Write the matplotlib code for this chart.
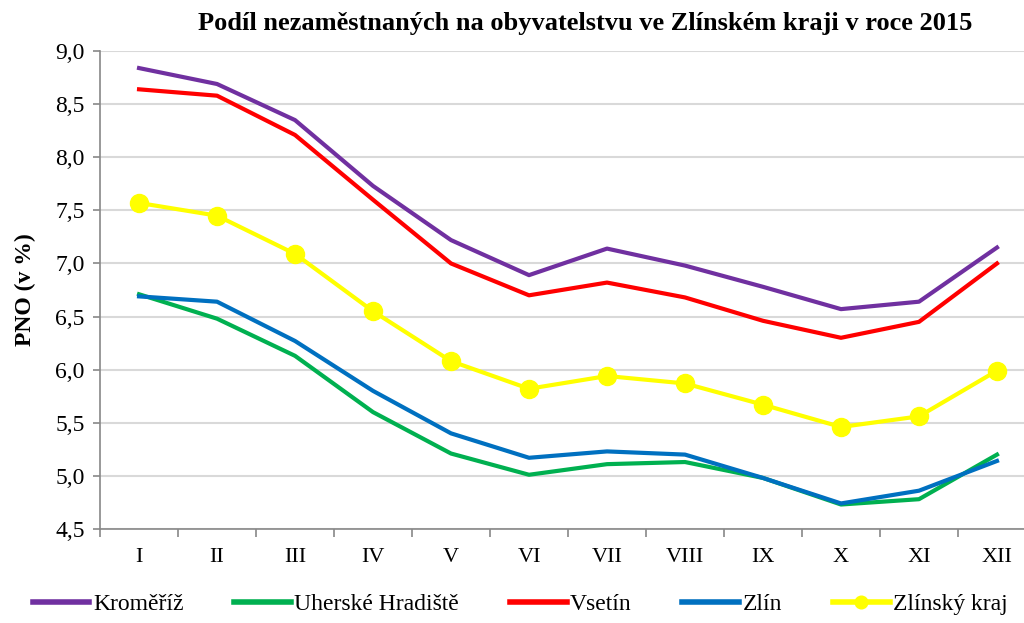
import matplotlib.pyplot as plt
import numpy as np

plt.rcParams["font.family"] = ["Liberation Serif", "DejaVu Serif"]

months = ["I", "II", "III", "IV", "V", "VI", "VII", "VIII", "IX", "X", "XI", "XII"]
kromeriz = [8.84, 8.69, 8.35, 7.73, 7.22, 6.89, 7.14, 6.98, 6.78, 6.57, 6.64, 7.15]
uh = [6.71, 6.48, 6.13, 5.60, 5.21, 5.01, 5.11, 5.13, 4.98, 4.73, 4.78, 5.20]
vsetin = [8.64, 8.58, 8.21, 7.60, 7.00, 6.70, 6.82, 6.68, 6.46, 6.30, 6.45, 7.00]
zlin = [6.69, 6.64, 6.27, 5.80, 5.40, 5.17, 5.23, 5.20, 4.98, 4.74, 4.86, 5.14]
kraj = [7.57, 7.45, 7.09, 6.55, 6.08, 5.82, 5.94, 5.87, 5.67, 5.46, 5.56, 5.99]

fig = plt.figure(figsize=(10.24, 6.23), dpi=100)
# plot area runs past the right edge, like the original
ax = fig.add_axes([0.0977, 0.151, 0.914, 0.767])
x = np.arange(len(months))

ax.plot(x, kromeriz, color="#7030A0", lw=3, label="Kroměříž")
ax.plot(x, uh, color="#00B050", lw=3, label="Uherské Hradiště")
ax.plot(x, vsetin, color="#FF0000", lw=3, label="Vsetín")
ax.plot(x, zlin, color="#0070C0", lw=3, label="Zlín")
ax.plot(x, kraj, color="#FFFF00", lw=3, marker="o", ms=13, label="Zlínský kraj")

ax.set_xlim(-0.5, 11.5)
ax.set_ylim(4.5, 9.0)
yt = np.arange(4.5, 9.01, 0.5)
ax.set_yticks(yt)
ax.set_yticklabels([f"{v:.1f}".replace(".", ",") for v in yt])
ax.set_xticks(x)
ax.set_xticklabels(months)
ax.set_xticks(np.arange(-0.5, 11.6, 1), minor=True)
ax.tick_params(axis="x", which="major", length=0, pad=14, labelsize=16)
ax.tick_params(axis="x", which="minor", length=6, width=1.2, color="#888888")
ax.tick_params(axis="y", length=5, width=1.2, color="#888888", labelsize=17, pad=6)
ax.grid(axis="y", color="#D9D9D9", lw=1.5)
ax.set_axisbelow(True)
for s in ["top", "right"]:
    ax.spines[s].set_visible(False)
for s in ["left", "bottom"]:
    ax.spines[s].set_color("#888888")
    ax.spines[s].set_linewidth(1.2)

ax.set_ylabel("PNO (v %)", fontsize=17, fontweight="bold", labelpad=14)
fig.suptitle("Podíl nezaměstnaných na obyvatelstvu ve Zlínském kraji v roce 2015",
             x=0.571, y=0.98, fontsize=19, fontweight="bold")

leg = fig.legend(loc="lower center", bbox_to_anchor=(0.508, -0.022), ncol=5, frameon=False,
                 fontsize=17, handlelength=2.4, handletextpad=0.15, columnspacing=2.15,
                 markerscale=0.7)
for h in leg.legend_handles:
    h.set_linewidth(4)

fig.savefig("out.png", dpi=100)
